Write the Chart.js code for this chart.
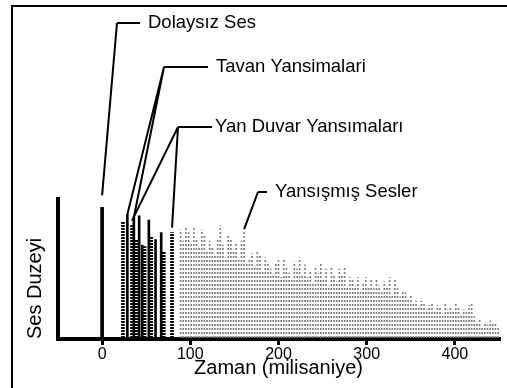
<!DOCTYPE html>
<html>
<head>
<meta charset="utf-8">
<script src="https://cdn.jsdelivr.net/npm/chart.js@4"></script>
<style>
  html, body { margin: 0; padding: 0; background: #fff; }
  #wrap { position: relative; width: 507px; height: 388px; }
  #frame { position: absolute; left: 11px; top: 5px; right: 0; bottom: 0;
           border-top: 2px solid #000; border-left: 2px solid #000; pointer-events: none; }
</style>
</head>
<body>
<div id="wrap">
  <canvas id="echoChart" width="507" height="388"></canvas>
  <div id="frame"></div>
</div>
<script>
// tick labels on the time axis (ms)
const xTicks = [0, 100, 200, 300, 400];

// direct sound
const directTimes = [0];
const directLevels = [94];

// early reflections drawn as solid lines
const solidTimes = [28.6, 36, 42, 45.5, 53, 60.6, 67];
const solidLevels = [89, 87, 88, 67, 85, 71, 76];

// early reflections drawn as dotted lines
const dottedTimes = [23.7, 33.9, 38.7, 48.2, 55.6, 70, 79.3];
const dottedLevels = [84, 81, 71, 66, 73, 62, 76];

// reverberant tail (grey dotted lines)
const reverbTimes = [89, 92, 95, 98, 101, 104, 107, 110, 113, 116, 119, 122, 125, 128, 131, 134,
  137, 140, 143, 146, 149, 152, 155, 158, 161, 164, 167, 170, 173, 176, 179, 182, 185, 188, 191,
  194, 197, 200, 203, 206, 209, 212, 215, 218, 221, 224, 227, 230, 233, 236, 239, 242, 245, 248,
  251, 254, 257, 260, 263, 266, 269, 272, 275, 278, 281, 284, 287, 290, 293, 296, 299, 302, 305,
  308, 311, 314, 317, 320, 323, 326, 329, 332, 335, 338, 341, 344, 347, 350, 353, 356, 359, 362,
  365, 368, 371, 374, 377, 380, 383, 386, 389, 392, 395, 398, 401, 404, 407, 410, 413, 416, 419,
  422, 425, 428, 431, 434, 437, 440, 443, 446, 449];
const reverbLevels = [78, 70, 80, 76, 68, 79, 72, 65, 78, 74, 62, 70, 66, 60, 72, 81,
  67, 58, 74, 71, 63, 69, 56, 70, 77, 55, 57, 61, 52, 63, 60, 48, 58, 55, 50,
  46, 54, 56, 44, 57, 52, 47, 42, 55, 50, 58, 46, 53, 44, 49, 40, 52, 47, 54,
  43, 50, 38, 52, 45, 41, 50, 46, 51, 37, 44, 42, 38, 44, 35, 40, 44, 37, 43,
  36, 42, 38, 33, 41, 37, 44, 32, 43, 36, 30, 34, 33, 28, 31, 26, 27, 23, 27,
  25, 21, 24, 26, 20, 24, 22, 18, 25, 21, 23, 19, 25, 22, 17, 21, 19, 24, 26,
  16, 12, 14, 9, 12, 10, 13, 11, 12, 8];

// callout labels and the reflections they point at
const calloutTexts = ['Dolaysız Ses', 'Tavan Yansimalari', 'Yan Duvar Yansımaları', 'Yansışmış Sesler'];
const calloutTargets = [[0], [28.6, 36], [33.9, 79.3], [161]];

// where the callout text rows sit (canvas pixels)
const calloutLayout = [
  { gap: 12, elbowX: 117, rowY: 23, lineEndX: 140, textX: 148 },
  { gap: 0, elbowX: 164, rowY: 67, lineEndX: 208, textX: 216 },
  { gap: 5, elbowX: 178, rowY: 127, lineEndX: 212, textX: 215 },
  { gap: 2, elbowX: 258, rowY: 192, lineEndX: 267, textX: 275 }
];

const FONT = '"Liberation Sans", Arial, Helvetica, sans-serif';

function toPoints(times, levels) {
  return times.map((t, i) => ({ x: t, y: levels[i] }));
}

function levelAt(t) {
  const groups = [[directTimes, directLevels], [solidTimes, solidLevels],
                  [dottedTimes, dottedLevels], [reverbTimes, reverbLevels]];
  for (const [ts, ls] of groups) {
    const i = ts.indexOf(t);
    if (i >= 0) return ls[i];
  }
  return 0;
}

const canvas = document.getElementById('echoChart');
const ctx = canvas.getContext('2d');

function dotPattern(color, on, off) {
  const c = document.createElement('canvas');
  c.width = 1;
  c.height = on + off;
  const g = c.getContext('2d');
  g.fillStyle = color;
  g.fillRect(0, 0, 1, on);
  return ctx.createPattern(c, 'repeat');
}

const calloutPlugin = {
  id: 'callouts',
  afterDatasetsDraw(chart) {
    const x = chart.scales.x, y = chart.scales.y;
    const c = chart.ctx;
    c.save();
    c.strokeStyle = '#000';
    c.lineWidth = 2;
    c.fillStyle = '#000';
    c.font = '18.5px ' + FONT;
    c.textBaseline = 'middle';
    calloutTexts.forEach((text, k) => {
      const L = calloutLayout[k];
      c.beginPath();
      calloutTargets[k].forEach(t => {
        c.moveTo(x.getPixelForValue(t), y.getPixelForValue(levelAt(t)) - L.gap);
        c.lineTo(L.elbowX, L.rowY);
      });
      c.moveTo(L.elbowX, L.rowY);
      c.lineTo(L.lineEndX, L.rowY);
      c.stroke();
      c.fillText(text, L.textX, L.rowY);
    });
    c.restore();
  }
};

new Chart(ctx, {
  type: 'bar',
  data: {
    datasets: [
      {
        label: 'Yansışmış Sesler',
        data: toPoints(reverbTimes, reverbLevels),
        backgroundColor: dotPattern('#808080', 2, 2),
        barThickness: 1,
        order: 4
      },
      {
        label: 'Dotted reflections',
        data: toPoints(dottedTimes, dottedLevels),
        backgroundColor: dotPattern('#000', 2, 1),
        barThickness: 3,
        order: 3
      },
      {
        label: 'Solid reflections',
        data: toPoints(solidTimes, solidLevels),
        backgroundColor: '#000',
        barThickness: 2,
        order: 2
      },
      {
        label: 'Dolaysız Ses',
        data: toPoints(directTimes, directLevels),
        backgroundColor: '#000',
        barThickness: 3,
        order: 1
      }
    ]
  },
  options: {
    responsive: false,
    animation: false,
    layout: { padding: { left: 12, top: 199, right: 8, bottom: 8 } },
    datasets: { bar: { grouped: false, borderWidth: 0 } },
    plugins: { legend: { display: false }, tooltip: { enabled: false } },
    scales: {
      x: {
        type: 'linear',
        min: -50,
        max: 450,
        offset: false,
        afterBuildTicks: scale => { scale.ticks = xTicks.map(v => ({ value: v })); },
        afterFit: scale => { scale.height = 41; },
        grid: { display: true, offset: false, drawOnChartArea: false, drawTicks: true,
                tickLength: 6, lineWidth: 3, color: '#000' },
        border: { display: true, width: 4, color: '#000' },
        ticks: { color: '#000', padding: 0, font: { family: FONT, size: 16 } },
        title: { display: true, text: 'Zaman (milisaniye)', color: '#000',
                 padding: { top: 0, bottom: 0 }, font: { family: FONT, size: 20 } }
      },
      y: {
        min: 0,
        max: 100,
        afterFit: scale => { scale.width = 46; },
        grid: { display: false },
        border: { display: true, width: 4, color: '#000' },
        ticks: { display: false },
        title: { display: true, text: 'Ses Duzeyi', color: '#000', align: 'start',
                 padding: { top: 11, bottom: 0 }, font: { family: FONT, size: 20 } }
      }
    }
  },
  plugins: [calloutPlugin]
});
</script>
</body>
</html>
